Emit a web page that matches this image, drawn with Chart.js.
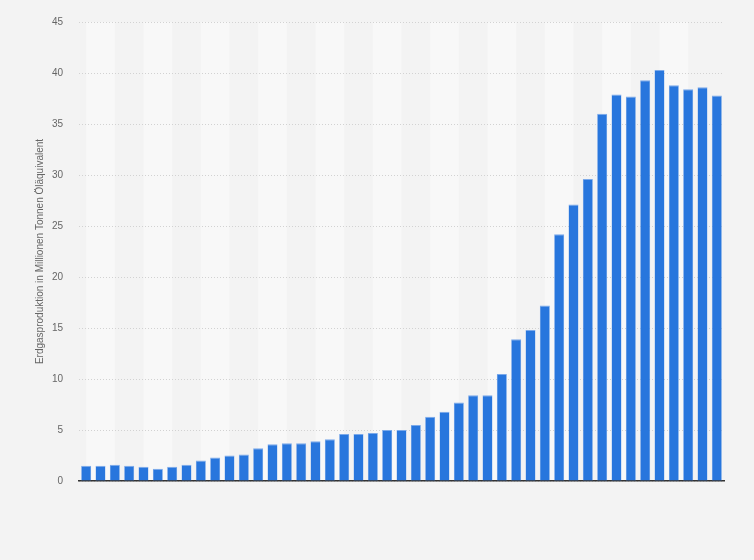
<!DOCTYPE html>
<html>
<head>
<meta charset="utf-8">
<script src="https://cdn.jsdelivr.net/npm/chart.js@4/dist/chart.umd.min.js"></script>
<style>
  html, body { margin: 0; padding: 0; background: #f3f3f3; }
  #wrap { width: 754px; height: 560px; position: relative; }
</style>
</head>
<body>
<div id="wrap"><canvas id="c" width="754" height="560"></canvas></div>
<script>
const years = [1970,1971,1972,1973,1974,1975,1976,1977,1978,1979,1980,1981,1982,1983,1984,1985,1986,1987,1988,1989,1990,1991,1992,1993,1994,1995,1996,1997,1998,1999,2000,2001,2002,2003,2004,2005,2006,2007,2008,2009,2010,2011,2012,2013,2014];
const production = [1.5,1.5,1.6,1.5,1.4,1.2,1.4,1.6,2.0,2.3,2.5,2.6,3.2,3.6,3.7,3.7,3.9,4.1,4.6,4.6,4.7,5.0,5.0,5.5,6.3,6.8,7.7,8.4,8.4,10.5,13.9,14.8,17.2,24.2,27.1,29.6,36.0,37.9,37.7,39.3,40.3,38.8,38.4,38.6,37.8];
const yTicks = [0,5,10,15,20,25,30,35,40,45];
const yTitle = 'Erdgasproduktion in Millionen Tonnen Öläquivalent';

const bandPlugin = {
  id: 'bands',
  beforeDraw(chart) {
    const {ctx, chartArea, scales} = chart;
    const x = scales.x;
    ctx.save();
    ctx.fillStyle = '#f3f3f3';
    ctx.fillRect(0, 0, chart.width, chart.height);
    ctx.fillStyle = '#f8f8f8';
    for (let i = 0; i + 2 < years.length; i += 4) {
      const x0 = x.getPixelForValue(i);
      const x1 = x.getPixelForValue(i + 2);
      ctx.fillRect(x0, chartArea.top, x1 - x0, chartArea.bottom - chartArea.top);
    }
    ctx.restore();
  }
};

new Chart(document.getElementById('c'), {
  type: 'bar',
  data: {
    labels: years,
    datasets: [{
      data: production,
      backgroundColor: '#2876dd',
      borderColor: '#7aa9ea',
      borderWidth: {top: 1, left: 0.5, right: 0.5, bottom: 0},
      borderSkipped: 'bottom',
      barPercentage: 0.7,
      categoryPercentage: 1.0
    }]
  },
  options: {
    responsive: false,
    animation: false,
    devicePixelRatio: 1,
    layout: { padding: { left: 0, right: 30, top: 21, bottom: 79 } },
    plugins: { legend: { display: false }, tooltip: { enabled: false } },
    scales: {
      x: {
        grid: { display: false },
        border: { display: true, color: '#333333', width: 1.5 },
        ticks: { display: false },
        afterFit(s) { s.height = 0; }
      },
      y: {
        min: 0, max: 45,
        afterBuildTicks(s) { s.ticks = yTicks.map(v => ({ value: v })); },
        grid: { color: '#d2d2d2', lineWidth: 1, drawTicks: false },
        border: { display: false, dash: [1, 2] },
        ticks: {
          padding: 16,
          color: '#666666',
          font: { family: 'Liberation Sans, Arial, sans-serif', size: 10 }
        },
        title: {
          display: true,
          text: yTitle,
          color: '#666666',
          font: { family: 'Liberation Sans, Arial, sans-serif', size: 10 },
          padding: { top: 34, bottom: 0 }
        },
        afterFit(s) { s.width = 79; }
      }
    }
  },
  plugins: [bandPlugin]
});
</script>
</body>
</html>
